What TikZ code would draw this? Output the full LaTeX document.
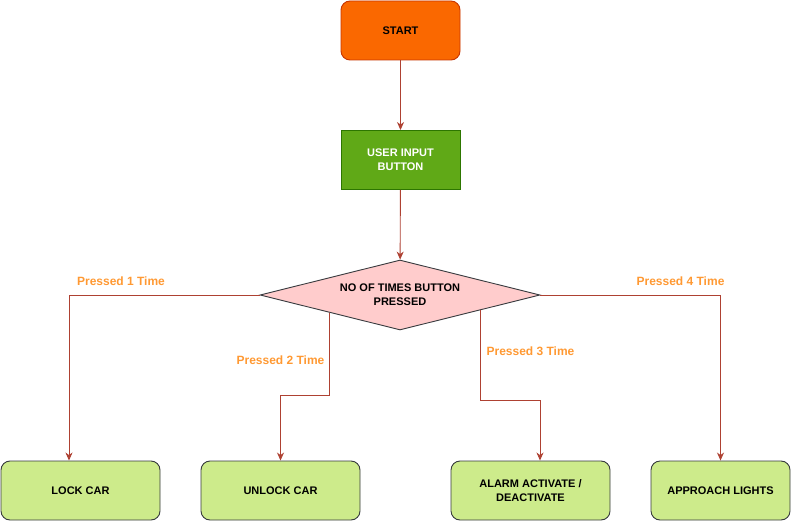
\documentclass[tikz,border=0pt]{standalone}
\usepackage{fontspec}
\setmainfont{Liberation Sans}
\usetikzlibrary{shapes.geometric,arrows.meta,calc}
\definecolor{startfill}{HTML}{FA6800}
\definecolor{startdraw}{HTML}{C73500}
\definecolor{userfill}{HTML}{60A917}
\definecolor{userdraw}{HTML}{2D7600}
\definecolor{decfill}{HTML}{FFCCCC}
\definecolor{darkline}{HTML}{36393D}
\definecolor{boxfill}{HTML}{CDEB8B}
\definecolor{edgecol}{HTML}{AE4132}
\definecolor{labcol}{HTML}{FF9933}
\tikzset{
  base/.style={minimum width=119pt, minimum height=59pt, align=center, font=\fontsize{11}{14}\selectfont\bfseries, line width=0.9pt, inner sep=2pt},
  startbox/.style={base, draw=startdraw, fill=startfill, rounded corners=9pt},
  userbox/.style={base, draw=userdraw, fill=userfill, text=white},
  decbox/.style={diamond, aspect=4, draw=darkline, fill=decfill, minimum width=280pt, minimum height=70pt, inner sep=0pt, align=center, font=\fontsize{11}{14}\selectfont\bfseries, line width=0.9pt},
  actbox/.style={base, minimum width=159pt, draw=darkline, fill=boxfill, rounded corners=9pt},
  arr/.style={draw=edgecol, line width=0.9pt, -{Stealth[length=8pt,width=7pt,inset=2.5pt]}},
  lab/.style={text=labcol, font=\fontsize{12}{14}\selectfont\bfseries, inner sep=0pt}
}
\begin{document}
\begin{tikzpicture}[x=1pt,y=-1pt]
\useasboundingbox (0,0) rectangle (791,521);
\node[startbox] (start) at (400.5,30.5) {START};
\node[userbox] (user) at (400.5,160) {USER INPUT\\BUTTON};
\node[decbox] (dec) at (400,295) {NO OF TIMES BUTTON\\PRESSED};
\node[actbox] (lock) at (80.5,490.5) {LOCK CAR};
\node[actbox] (unlock) at (280.5,490.5) {UNLOCK CAR};
\node[actbox] (alarm) at (530.5,490.5) {ALARM ACTIVATE /\\DEACTIVATE};
\node[actbox, minimum width=139pt] (appr) at (720.5,490.5) {APPROACH LIGHTS};
\coordinate (p2) at ($(dec.west)!0.5!(dec.south)$);
\coordinate (p3) at ($(dec.south)!0.5714!(dec.east)$);
\draw[arr] (start) -- (user);
\draw[arr] (user) -- (dec);
\draw[arr] (dec.west) -| ([xshift=-11.5pt]lock.north);
\draw[arr] (p2) -- ++(0,82.5) -| (unlock.north);
\draw[arr] (p3) -- ++(0,90) -| ([xshift=9.5pt]alarm.north);
\draw[arr] (dec.east) -| (appr.north);
\node[lab] (l1) at (121,281) {Pressed 1 Time};
\node[lab] (l2) at (280.5,360) {Pressed 2 Time};
\node[lab] (l3) at (530.5,351) {Pressed 3 Time};
\node[lab] (l4) at (680.5,281) {Pressed 4 Time};
\end{tikzpicture}
\end{document}
